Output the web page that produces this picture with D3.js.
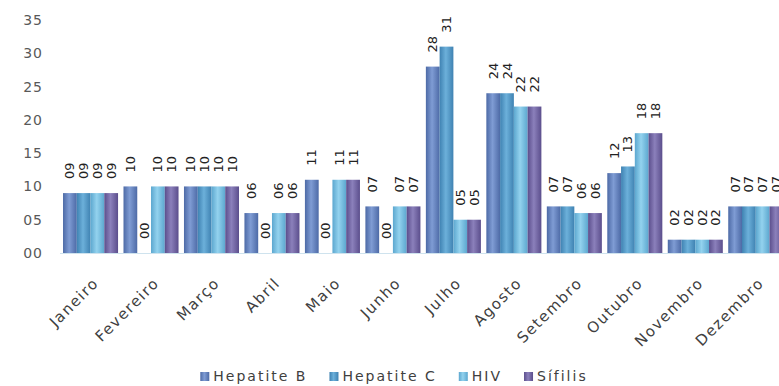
<!DOCTYPE html>
<html>
<head>
<meta charset="utf-8">
<script src="https://cdn.jsdelivr.net/npm/d3@7"></script>
<style>
  html, body { margin: 0; padding: 0; background: #fff; }
  svg { display: block; }
</style>
</head>
<body>
<svg id="chart" width="779" height="386"></svg>
<script>
const months = ["Janeiro","Fevereiro","Março","Abril","Maio","Junho","Julho","Agosto","Setembro","Outubro","Novembro","Dezembro"];
const seriesNames = ["Hepatite B","Hepatite C","HIV","Sífilis"];
const hepatiteB = [9,10,10,6,11,7,28,24,7,12,2,7];
const hepatiteC = [9,0,10,0,0,0,31,24,7,13,2,7];
const hiv       = [9,10,10,6,11,7,5,22,6,18,2,7];
const sifilis   = [9,10,10,6,11,7,5,22,6,18,2,7];
const yTicks = [0,5,10,15,20,25,30,35];

const seriesValues = [hepatiteB, hepatiteC, hiv, sifilis];
const colors = [
  {edge:"#4d6aa6", mid:"#7f9cd4"},
  {edge:"#3f82b2", mid:"#6cb0da"},
  {edge:"#5ca7cf", mid:"#93d2ee"},
  {edge:"#5b4e8c", mid:"#8b80bb"}
];

const svg = d3.select("#chart");
const defs = svg.append("defs");
colors.forEach((c,i) => {
  const g = defs.append("linearGradient").attr("id","grad"+i)
    .attr("x1","0%").attr("x2","100%").attr("y1","0%").attr("y2","0%");
  g.append("stop").attr("offset","0%").attr("stop-color",c.edge);
  g.append("stop").attr("offset","45%").attr("stop-color",c.mid);
  g.append("stop").attr("offset","100%").attr("stop-color",c.edge);
});

const y = d3.scaleLinear().domain([0,35]).range([253,20]);
const x = d3.scaleBand().domain(months).range([60.3,786]).paddingInner(0.09).paddingOuter(0.045);
const xs = d3.scaleBand().domain(seriesNames).range([0, x.bandwidth()]).padding(0);

const fmt = d3.format("02d");

// Y axis labels
const yAxis = d3.axisLeft(y).tickValues(yTicks).tickFormat(fmt).tickSize(0).tickPadding(0);
const yg = svg.append("g").attr("transform","translate(43,0)").call(yAxis);
yg.select(".domain").remove();
yg.selectAll("text")
  .attr("font-family","DejaVu Sans")
  .attr("font-size","14px")
  .attr("letter-spacing","1px")
  .attr("fill","#595959");

// baseline
svg.append("line").attr("x1",60).attr("x2",779).attr("y1",y(0)+0.5).attr("y2",y(0)+0.5)
  .attr("stroke","#cfe3ee").attr("stroke-width",1);

// bars
const data = [];
months.forEach((m,mi) => seriesNames.forEach((s,si) => data.push({m, s, si, v: seriesValues[si][mi]})));

svg.append("g").selectAll("rect").data(data).join("rect")
  .attr("x", d => x(d.m) + xs(d.s))
  .attr("y", d => y(d.v))
  .attr("width", xs.bandwidth())
  .attr("height", d => y(0) - y(d.v))
  .attr("fill", d => `url(#grad${d.si})`);

// data labels
svg.append("g").selectAll("text").data(data).join("text")
  .attr("transform", d => `translate(${x(d.m) + xs(d.s) + xs.bandwidth()/2},${y(d.v) - 14}) rotate(-90)`)
  .attr("text-anchor","start")
  .attr("dy","0.35em")
  .attr("font-family","DejaVu Sans")
  .attr("font-size","13px")
  .attr("fill","#222")
  .text(d => fmt(d.v));

// x labels
const xAxis = d3.axisBottom(x).tickSize(0).tickPadding(0);
const xg = svg.append("g").attr("transform",`translate(0,${y(0)})`).call(xAxis);
xg.select(".domain").remove();
xg.selectAll("text")
  .attr("font-family","DejaVu Sans")
  .attr("font-size","15px")
  .attr("letter-spacing","1.5px")
  .attr("fill","#404040")
  .attr("text-anchor","end")
  .attr("dy",null)
  .attr("y",null)
  .attr("transform","translate(9,31) rotate(-45)");

// legend
const lg = svg.append("g");
const items = lg.selectAll("g").data(seriesNames).join("g");
items.append("rect").attr("width",9).attr("height",9).attr("y",-9)
  .attr("fill",(d,i)=>`url(#grad${i})`);
items.append("text").attr("x",13).attr("y",0)
  .attr("font-family","DejaVu Sans").attr("font-size","14px").attr("letter-spacing","2px")
  .attr("fill","#404040").text(d=>d);
let cx = 0;
const pos = [];
items.each(function(d){
  const w = 13 + d3.select(this).select("text").node().getComputedTextLength();
  pos.push(cx); cx += w + 22;
});
const total = cx - 22;
const start = 394 - total/2;
items.attr("transform",(d,i)=>`translate(${start+pos[i]},381)`);
</script>
</body>
</html>
